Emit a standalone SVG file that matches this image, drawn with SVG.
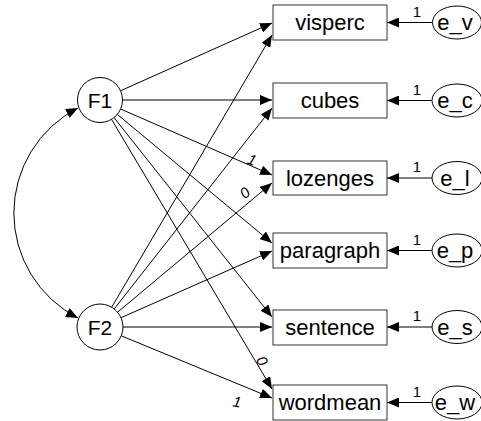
<svg xmlns="http://www.w3.org/2000/svg" width="481" height="421" viewBox="0 0 481 421">
<defs>
<marker id="ah" viewBox="0 0 12 10" refX="12" refY="5" markerWidth="12" markerHeight="10" markerUnits="userSpaceOnUse" orient="auto-start-reverse">
<path d="M0,0 L12,5 L0,10 z" fill="#000"/>
</marker>
<style>
.box{fill:#fff;stroke:#333;stroke-width:1}
.lat{fill:#fff;stroke:#000;stroke-width:1}
.t{font-family:"Liberation Sans",Arial,sans-serif;font-size:22px;text-anchor:middle;fill:#000}
.c{font-family:"Liberation Sans",Arial,sans-serif;font-size:15px;text-anchor:middle;fill:#000}
.ci{font-family:"Liberation Sans",Arial,sans-serif;font-size:15px;font-style:italic;text-anchor:middle;fill:#000}
.ln{stroke:#000;stroke-width:1;fill:none;marker-end:url(#ah)}
</style>
</defs>
<g id="connectors">
<path class="ln" d="M78,108 A118,118 0 0 0 78,318" marker-start="url(#ah)"/>
<line class="ln" x1="120.5" y1="90.8" x2="272" y2="23"/>
<line class="ln" x1="122.5" y1="100" x2="272" y2="100"/>
<line class="ln" x1="120.6" y1="109" x2="272" y2="175"/>
<line class="ln" x1="117.3" y1="114.4" x2="272" y2="243"/>
<line class="ln" x1="114" y1="117.6" x2="272" y2="317"/>
<line class="ln" x1="111.5" y1="119.3" x2="272" y2="389"/>
<line class="ln" x1="111.7" y1="307.2" x2="272" y2="35"/>
<line class="ln" x1="114.2" y1="308.9" x2="272" y2="108"/>
<line class="ln" x1="117.6" y1="312.2" x2="272" y2="183"/>
<line class="ln" x1="121" y1="317.7" x2="272" y2="251"/>
<line class="ln" x1="123" y1="327" x2="272" y2="327"/>
<line class="ln" x1="121.3" y1="335.8" x2="272" y2="398"/>
<line class="ln" x1="432" y1="22.5" x2="387" y2="22.5"/>
<line class="ln" x1="432" y1="100.5" x2="387" y2="100.5"/>
<line class="ln" x1="432" y1="178" x2="387" y2="178"/>
<line class="ln" x1="432" y1="250.5" x2="387" y2="250.5"/>
<line class="ln" x1="432" y1="327" x2="387" y2="327"/>
<line class="ln" x1="432" y1="402.5" x2="387" y2="402.5"/>
<text class="ci" transform="translate(252,160) rotate(20)" y="5">1</text>
<text class="ci" transform="translate(245,193) rotate(-40)" y="5">0</text>
<text class="ci" transform="translate(262,361) rotate(59)" y="5">0</text>
<text class="ci" transform="translate(237,402) rotate(10)" y="5">1</text>
<text class="c" x="417" y="17">1</text>
<text class="c" x="417" y="95">1</text>
<text class="c" x="417" y="172">1</text>
<text class="c" x="417" y="245">1</text>
<text class="c" x="417" y="321">1</text>
<text class="c" x="417" y="397">1</text>
</g>
<g id="F1"><circle class="lat" cx="100" cy="100" r="22.5"/><text class="t" x="100" y="108" style="font-size:21px">F1</text></g>
<g id="F2"><circle class="lat" cx="100" cy="327" r="23"/><text class="t" x="100" y="335" style="font-size:21px">F2</text></g>
<g id="visperc"><rect class="box" x="273" y="5" width="114" height="35"/><text class="t" x="330" y="30">visperc</text></g>
<g id="cubes"><rect class="box" x="273" y="83" width="114" height="35"/><text class="t" x="330" y="108">cubes</text></g>
<g id="lozenges"><rect class="box" x="273" y="161" width="114" height="34"/><text class="t" x="330" y="186">lozenges</text></g>
<g id="paragraph"><rect class="box" x="273" y="233" width="114" height="35"/><text class="t" x="330" y="258">paragraph</text></g>
<g id="sentence"><rect class="box" x="273" y="310" width="114" height="35"/><text class="t" x="330" y="335">sentence</text></g>
<g id="wordmean"><rect class="box" x="273" y="385" width="114" height="35"/><text class="t" x="330" y="410">wordmean</text></g>
<g id="e_v"><ellipse class="lat" cx="457" cy="22.5" rx="24.5" ry="16.5"/><text class="t" x="455" y="30">e_v</text></g>
<g id="e_c"><ellipse class="lat" cx="457" cy="100.5" rx="25" ry="16.5"/><text class="t" x="455" y="108">e_c</text></g>
<g id="e_l"><ellipse class="lat" cx="457" cy="178" rx="25" ry="16.5"/><text class="t" x="455" y="186">e_l</text></g>
<g id="e_p"><ellipse class="lat" cx="457" cy="250.5" rx="25" ry="16.5"/><text class="t" x="455" y="258">e_p</text></g>
<g id="e_s"><ellipse class="lat" cx="457" cy="327" rx="25" ry="16.5"/><text class="t" x="455" y="335">e_s</text></g>
<g id="e_w"><ellipse class="lat" cx="457" cy="402.5" rx="25" ry="16.5"/><text class="t" x="455" y="410">e_w</text></g>
</svg>
